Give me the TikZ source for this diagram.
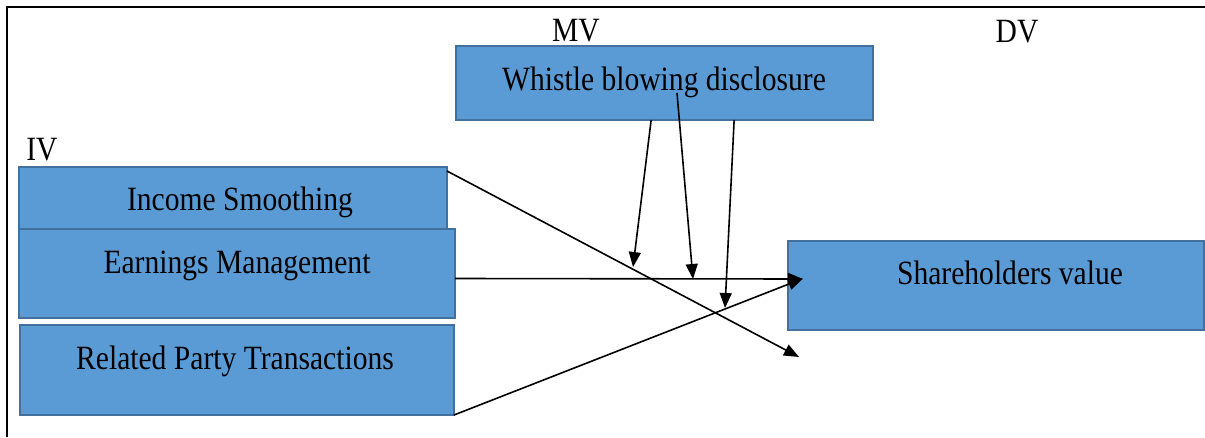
\documentclass[tikz,border=0pt]{standalone}
\usepackage{fontspec}
\setmainfont{Liberation Serif}
\usetikzlibrary{arrows.meta,calc}
\definecolor{boxblue}{HTML}{5B9BD5}
\definecolor{boxedge}{HTML}{41719C}
% slightly condensed text, as set in the model figure
\newcommand{\narrowtxt}[1]{\scalebox{0.87}[1]{#1}}

\begin{document}
\begin{tikzpicture}[x=1pt,y=-1pt,
  varbox/.style={draw=boxedge,fill=boxblue,line width=1.2pt,inner sep=0pt,outer sep=0pt},
  lbl/.style={anchor=base,inner sep=0pt,font=\fontsize{34}{40}\selectfont},
  link/.style={line width=1.6pt,-{Triangle[length=15pt,width=12pt]}}]

\useasboundingbox (0,0) rectangle (1205,437);

% outer frame (top and left edges)
\draw[line width=2pt] (7,437) -- (7,7) -- (1205,7);

% group headings
\node[lbl] (mv) at (576,41) {\narrowtxt{MV}};
\node[lbl] (dv) at (1017,42) {\narrowtxt{DV}};
\node[lbl] (iv) at (42,160) {\narrowtxt{IV}};

% variable boxes
\node[varbox,minimum width=428pt,minimum height=62pt] (is) at (233,198) {};
\node[varbox,minimum width=436pt,minimum height=89pt] (em) at (237,273.5) {};
\node[varbox,minimum width=434pt,minimum height=90pt] (rp) at (237,370) {};
\node[varbox,minimum width=417pt,minimum height=74pt] (wb) at (664.5,83) {};
\node[varbox,minimum width=416pt,minimum height=89pt] (sv) at (996,285.5) {};

% box texts
\node[lbl] (ist) at (240,210) {\narrowtxt{Income Smoothing}};
\node[lbl] (emt) at (237,273) {\narrowtxt{Earnings Management}};
\node[lbl] (rpt) at (235,369) {\narrowtxt{Related Party Transactions}};
\node[lbl] (wbt) at (664,90) {\narrowtxt{Whistle blowing disclosure}};
\node[lbl] (svt) at (1010,284) {\narrowtxt{Shareholders value}};

% free arrow ends
\coordinate (isEnd) at (799,357);
\coordinate (m1End) at (633,267);
\coordinate (m2End) at (693,279);
\coordinate (m3End) at (725,308);

% direct effects
\draw[link] ($(is.north east)+(0,4)$) -- (isEnd);
\draw[link] ($(em.east)+(0,5)$) -- ($(sv.west)+(15,-6.5)$);
\draw[link] (rp.south east) -- ($(sv.west)+(15,-7)$);

% moderating effects
\draw[link] ($(wb.south west)!0.468!(wb.south east)$) -- (m1End);
\draw[link] ($(wb.center)+(12.5,10)$) -- (m2End);
\draw[link] ($(wb.south west)!0.667!(wb.south east)$) -- (m3End);
\end{tikzpicture}
\end{document}
